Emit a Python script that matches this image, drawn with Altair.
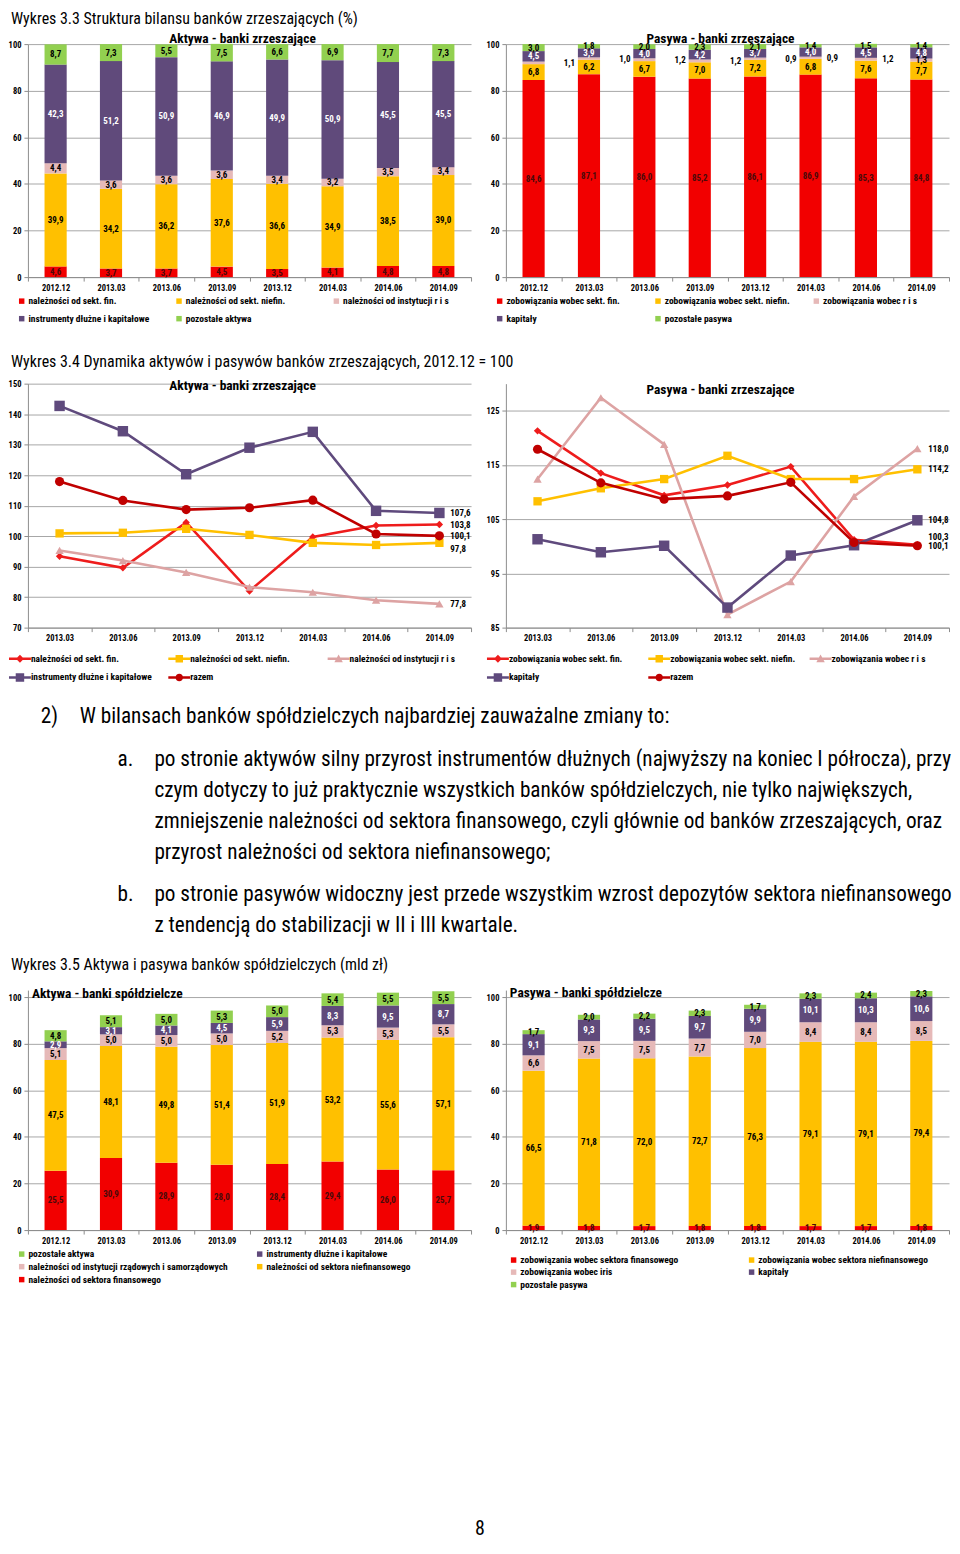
import altair as alt
import pandas as pd

FONT = "Liberation Sans Narrow, Arial Narrow, Roboto Condensed, DejaVu Sans Condensed, sans-serif"

okresy8 = ["2012.12", "2013.03", "2013.06", "2013.09", "2013.12", "2014.03", "2014.06", "2014.09"]
okresy7 = okresy8[1:]

# ---- Wykres 3.3 (%), aktywa
a33_nazwy = ["należności od sekt. fin.", "należności od sekt. niefin.", "należności od instytucji r i s",
             "instrumenty dłużne i kapitałowe", "pozostałe aktywa"]
a33_fin = [4.6, 3.7, 3.7, 4.5, 3.5, 4.1, 4.8, 4.8]
a33_niefin = [39.9, 34.2, 36.2, 37.6, 36.6, 34.9, 38.5, 39.0]
a33_ris = [4.4, 3.6, 3.6, 3.6, 3.4, 3.2, 3.5, 3.4]
a33_instr = [42.3, 51.2, 50.9, 46.9, 49.9, 50.9, 45.5, 45.5]
a33_poz = [8.7, 7.3, 5.5, 7.5, 6.6, 6.9, 7.7, 7.3]

# ---- Wykres 3.3 (%), pasywa
p33_nazwy = ["zobowiązania wobec sekt. fin.", "zobowiązania wobec sekt. niefin.", "zobowiązania wobec r i s",
             "kapitały", "pozostałe pasywa"]
p33_fin = [84.6, 87.1, 86.0, 85.2, 86.1, 86.9, 85.3, 84.8]
p33_niefin = [6.8, 6.2, 6.7, 7.0, 7.2, 6.8, 7.6, 7.7]
p33_ris = [1.1, 1.0, 1.2, 1.2, 0.9, 0.9, 1.2, 1.3]
p33_kap = [4.5, 3.9, 4.0, 4.2, 3.7, 4.0, 4.5, 4.8]
p33_poz = [3.0, 1.8, 2.0, 2.3, 2.1, 1.4, 1.5, 1.4]

# ---- Wykres 3.4 (2012.12 = 100), aktywa
a34_nazwy = ["należności od sekt. fin.", "należności od sekt. niefin.", "należności od instytucji r i s",
             "instrumenty dłużne i kapitałowe", "razem"]
a34_fin = [93.4, 89.6, 104.5, 82.0, 99.7, 103.5, 103.8]
a34_niefin = [100.9, 101.1, 102.4, 100.4, 97.8, 97.1, 97.8]
a34_ris = [95.3, 92.0, 88.1, 83.3, 81.6, 79.0, 77.8]
a34_instr = [142.7, 134.4, 120.3, 129.0, 134.2, 108.3, 107.6]
a34_razem = [117.9, 111.7, 108.7, 109.3, 111.8, 100.7, 100.1]

# ---- Wykres 3.4 (2012.12 = 100), pasywa
p34_nazwy = ["zobowiązania wobec sekt. fin.", "zobowiązania wobec sekt. niefin.", "zobowiązania wobec r i s",
             "kapitały", "razem"]
p34_fin = [121.3, 113.5, 109.4, 111.3, 114.7, 101.2, 100.3]
p34_niefin = [108.3, 110.7, 112.4, 116.7, 112.4, 112.4, 114.2]
p34_ris = [112.4, 127.4, 118.8, 87.4, 93.5, 109.2, 118.0]
p34_kap = [101.3, 98.9, 100.1, 88.7, 98.3, 100.2, 104.8]
p34_razem = [117.9, 111.7, 108.7, 109.3, 111.8, 100.7, 100.1]

# ---- Wykres 3.5 (mld zł), aktywa
a35_nazwy = ["należności od sektora finansowego", "należności od sektora niefinansowego",
             "należności od instytucji rządowych i samorządowych", "instrumenty dłużne i kapitałowe",
             "pozostałe aktywa"]
a35_fin = [25.5, 30.9, 28.9, 28.0, 28.4, 29.4, 26.0, 25.7]
a35_niefin = [47.5, 48.1, 49.8, 51.4, 51.9, 53.2, 55.6, 57.1]
a35_rzad = [5.1, 5.0, 5.0, 5.0, 5.2, 5.3, 5.3, 5.5]
a35_instr = [2.9, 3.1, 4.1, 4.5, 5.9, 8.3, 9.5, 8.7]
a35_poz = [4.8, 5.1, 5.0, 5.3, 5.0, 5.4, 5.5, 5.5]

# ---- Wykres 3.5 (mld zł), pasywa
p35_nazwy = ["zobowiązania wobec sektora finansowego", "zobowiązania wobec sektora niefinansowego",
             "zobowiązania wobec iris", "kapitały", "pozostałe pasywa"]
p35_fin = [1.9, 1.8, 1.7, 1.8, 1.8, 1.7, 1.7, 1.8]
p35_niefin = [66.5, 71.8, 72.0, 72.7, 76.3, 79.1, 79.1, 79.4]
p35_iris = [6.6, 7.5, 7.5, 7.7, 7.0, 8.4, 8.4, 8.5]
p35_kap = [9.1, 9.3, 9.5, 9.7, 9.9, 10.1, 10.3, 10.6]
p35_poz = [1.7, 2.0, 2.2, 2.3, 1.7, 2.3, 2.4, 2.3]

tytul_33 = "Wykres 3.3 Struktura bilansu banków zrzeszających (%)"
tytul_34 = "Wykres 3.4 Dynamika aktywów i pasywów banków zrzeszających, 2012.12 = 100"
tytul_35 = "Wykres 3.5 Aktywa i pasywa banków spółdzielczych (mld zł)"
akapit_2 = "W bilansach banków spółdzielczych najbardziej zauważalne zmiany to:"
akapit_a = ["po stronie aktywów silny przyrost instrumentów dłużnych (najwyższy na koniec I półrocza), przy",
            "czym dotyczy to już praktycznie wszystkich banków spółdzielczych, nie tylko największych,",
            "zmniejszenie należności od sektora finansowego, czyli głównie od banków zrzeszających, oraz",
            "przyrost należności od sektora niefinansowego;"]
akapit_b = ["po stronie pasywów widoczny jest przede wszystkim wzrost depozytów sektora niefinansowego",
            "z tendencją do stabilizacji w II i III kwartale."]

# ---- styles
RED, YEL, PINK, PURP, GREEN = "#F20000", "#FFC000", "#E6B9B8", "#604A7B", "#92D050"
LRED, LYEL, LPINK, LPURP, LDARK = "#EE1C1C", "#FFC000", "#DDA3A3", "#5F4A7D", "#C00000"
DARKLAB = "#4a0a0a"
GRAY = "#8c8c8c"
W = 445
LAB = 9
AX = 8.5
LEG = 9.5
BODY = 21.3
HEAD = 16
CT = 13.5


def fmt(v):
    return f"{v:.1f}".replace(".", ",")


def frame(names, series, periods):
    rows = []
    for k, (n, vals) in enumerate(zip(names, series)):
        for p, v in zip(periods, vals):
            rows.append({"okres": p, "seria": n, "kolej": k, "wartosc": v, "etykieta": fmt(v)})
    return pd.DataFrame(rows)


def x_axis():
    return alt.Axis(title=None, labelAngle=0, tickBand="extent", grid=False, tickSize=4,
                    labelPadding=2, domainColor=GRAY, tickColor=GRAY)


def bar_chart(df, names, colors, lab_colors, ymax, title, leg, height, skip_idx=None, extra=None,
              legend_reverse=False):
    dom = names[::-1] if legend_reverse else names
    rng = colors[::-1] if legend_reverse else colors
    base = alt.Chart(df).transform_stack(
        stack="wartosc", groupby=["okres"], as_=["y0", "y1"],
        sort=[alt.SortField("kolej", order="ascending")]
    ).transform_calculate(ysr="(datum.y0 + datum.y1) / 2")
    x = alt.X("okres:N", sort=okresy8, scale=alt.Scale(paddingInner=0, paddingOuter=0), axis=x_axis())
    ysc = alt.Scale(domain=[0, ymax], nice=False, zero=True)
    yax = alt.Axis(title=None, values=list(range(0, 101, 10)), grid=True, tickSize=4, labelPadding=3,
                   domainColor=GRAY, tickColor=GRAY)
    bars = base.mark_bar(width=alt.RelativeBandSize(0.4)).encode(
        x=x,
        y=alt.Y("y0:Q", scale=ysc, axis=yax),
        y2="y1:Q",
        color=alt.Color("seria:N", scale=alt.Scale(domain=dom, range=rng), legend=leg),
    )
    tbase = base
    if skip_idx is not None:
        tbase = base.transform_filter(alt.datum.kolej != skip_idx)
    texts = tbase.mark_text(font=FONT, fontSize=LAB, fontWeight="bold", baseline="middle").encode(
        x=x,
        y=alt.Y("ysr:Q", scale=ysc),
        text="etykieta:N",
        color=alt.Color("seria:N", scale=alt.Scale(domain=names, range=lab_colors), legend=None),
    )
    layers = [bars, texts]
    if extra is not None:
        for okresy_grp, dx in extra:
            layers.append(
                base.transform_filter(alt.datum.kolej == skip_idx)
                .transform_filter(alt.FieldOneOfPredicate(field="okres", oneOf=okresy_grp))
                .mark_text(font=FONT, fontSize=LAB, fontWeight="bold", baseline="middle", dx=dx,
                           color="black")
                .encode(x=x, y=alt.Y("ysr:Q", scale=ysc), text="etykieta:N")
            )
    return alt.layer(*layers).resolve_scale(color="independent").properties(
        width=W, height=height, title=title)


LINE = "M-2.2,-0.25H2.2V0.25H-2.2Z"
P_DIAM = LINE + "M0,-0.8L0.8,0L0,0.8L-0.8,0Z"
P_SQ = LINE + "M-0.75,-0.75H0.75V0.75H-0.75Z"
P_BIGSQ = LINE + "M-0.85,-0.85H0.85V0.85H-0.85Z"
P_TRI = LINE + "M0,-0.85L0.85,0.7H-0.85Z"
P_CIRC = LINE + "M-0.75,0A0.75,0.75 0 1,1 0.75,0A0.75,0.75 0 1,1 -0.75,0Z"

line_colors = [LRED, LYEL, LPINK, LPURP, LDARK]
line_shapes = ["diamond", "square", "triangle-up", "square", "circle"]
line_sizes = [55, 70, 70, 110, 85]
legend_paths = [P_DIAM, P_SQ, P_TRI, P_BIGSQ, P_CIRC]


def line_chart(df, names, ydom, yticks, title, label_dy, leg_pad):
    x = alt.X("okres:N", sort=okresy7, scale=alt.Scale(type="band", paddingInner=0, paddingOuter=0),
              axis=x_axis())
    ysc = alt.Scale(domain=ydom, nice=False, zero=False)
    y = alt.Y("wartosc:Q", scale=ysc,
              axis=alt.Axis(title=None, values=yticks, grid=True, tickSize=4, labelPadding=3,
                            domainColor=GRAY, tickColor=GRAY))
    csc = alt.Scale(domain=names, range=line_colors)
    layers = [alt.Chart(df).mark_line(strokeWidth=2.6).encode(
        x=x, y=y, color=alt.Color("seria:N", scale=csc, legend=None), order="kolej:Q")]
    for n, shp, sz in zip(names, line_shapes, line_sizes):
        layers.append(alt.Chart(df).transform_filter(alt.datum.seria == n).mark_point(
            shape=shp, filled=True, size=sz, opacity=1).encode(
            x=x, y=y, color=alt.Color("seria:N", scale=csc, legend=None)))
    for n, dy in zip(names, label_dy):
        layers.append(alt.Chart(df).transform_filter(
            (alt.datum.seria == n) & (alt.datum.okres == okresy7[-1])).mark_text(
            align="left", baseline="middle", dx=11, dy=dy, font=FONT, fontSize=LAB, fontWeight="bold",
            color="black").encode(x=x, y=y, text="etykieta:N"))
    inner = alt.layer(*layers)
    leg = alt.Legend(title=None, orient="none", legendX=-13, legendY=271, columns=3, direction="horizontal",
                     symbolSize=100, labelOffset=6, rowPadding=9, columnPadding=leg_pad, gridAlign="all",
                     symbolStrokeWidth=0)
    legend_layer = alt.Chart(df).transform_filter("false").mark_point(filled=True, opacity=1).encode(
        x=x, y=y,
        color=alt.Color("seria:N", scale=csc, legend=leg),
        shape=alt.Shape("seria:N", scale=alt.Scale(domain=names, range=legend_paths), legend=leg))
    return alt.layer(inner, legend_layer).resolve_scale(color="independent", shape="independent").properties(
        width=W, height=245, title=title)


def mid_title(t, dx, offset):
    return alt.TitleParams(t, anchor="middle", frame="group", orient="top", baseline="bottom", offset=offset,
                           dx=dx, fontSize=CT, fontWeight="bold", font=FONT, color="black")


def corner_title(t):
    return alt.TitleParams(t, anchor="start", frame="group", orient="top", baseline="bottom", offset=-24,
                           dx=4, fontSize=CT, fontWeight="bold", font=FONT, color="black")


def bar_legend(lx, ly, cols, rowpad, colpad):
    return alt.Legend(title=None, orient="none", legendX=lx, legendY=ly, columns=cols, direction="horizontal",
                      symbolType="square", symbolSize=30, labelOffset=2, rowPadding=rowpad,
                      columnPadding=colpad, gridAlign="all", symbolStrokeWidth=0)


def text_cell(items, h):
    layers = []
    for txt, x, y, size in items:
        layers.append(alt.Chart(pd.DataFrame({"t": [txt]})).mark_text(
            align="left", baseline="middle", font=FONT, fontSize=size, color="black").encode(
            x=alt.value(x), y=alt.value(y), text="t:N"))
    return alt.layer(*layers).properties(width=W, height=h)


def blank(h):
    return alt.Chart(pd.DataFrame({"t": [""]})).mark_text().encode(text="t:N").properties(width=W, height=h)


# ---- charts
c_a33 = bar_chart(frame(a33_nazwy, [a33_fin, a33_niefin, a33_ris, a33_instr, a33_poz], okresy8),
                  a33_nazwy, [RED, YEL, PINK, PURP, GREEN], [DARKLAB, "black", "black", "white", "black"],
                  100, mid_title("Aktywa - banki zrzeszające", -7, -19), bar_legend(-11, 253, 3, 7, 24), 234)

c_p33 = bar_chart(frame(p33_nazwy, [p33_fin, p33_niefin, p33_ris, p33_kap, p33_poz], okresy8),
                  p33_nazwy, [RED, YEL, PINK, PURP, GREEN], [DARKLAB, "black", "black", "white", "black"],
                  100, mid_title("Pasywa - banki zrzeszające", -7, -19), bar_legend(-11, 253, 3, 7, 21), 234,
                  skip_idx=2,
                  extra=[(okresy8[:5], 36), (okresy8[5:7], 22), (okresy8[7:], 0)])

c_a34 = line_chart(frame(a34_nazwy, [a34_fin, a34_niefin, a34_ris, a34_instr, a34_razem], okresy7),
                   a34_nazwy, [70, 150], list(range(70, 151, 10)),
                   mid_title("Aktywa - banki zrzeszające", -7, -27), [0, 6, 0, 0, 0], 16)

c_p34 = line_chart(frame(p34_nazwy, [p34_fin, p34_niefin, p34_ris, p34_kap, p34_razem], okresy7),
                   p34_nazwy, [85, 130], [85, 95, 105, 115, 125],
                   mid_title("Pasywa - banki zrzeszające", -7, -27), [-8, 0, 0, 0, 0], 14)

c_a35 = bar_chart(frame(a35_nazwy, [a35_fin, a35_niefin, a35_rzad, a35_instr, a35_poz], okresy8),
                  a35_nazwy, [RED, YEL, PINK, PURP, GREEN], [DARKLAB, "black", "black", "white", "black"],
                  103, corner_title("Aktywa - banki spółdzielcze"), bar_legend(-11, 260, 2, 2, 26), 241,
                  legend_reverse=True)

c_p35 = bar_chart(frame(p35_nazwy, [p35_fin, p35_niefin, p35_iris, p35_kap, p35_poz], okresy8),
                  p35_nazwy, [RED, YEL, PINK, PURP, GREEN], [DARKLAB, "black", "black", "white", "black"],
                  103, corner_title("Pasywa - banki spółdzielcze"), bar_legend(3, 266, 2, 1.5, 56), 241)

head1 = text_cell([(tytul_33, -17, 8, HEAD)], 33)
head2 = text_cell([(tytul_34, -17, 85, HEAD)], 107)
para_items = [("2)", 13, 90, BODY), (akapit_2, 52, 90, BODY), ("a.", 90, 133, BODY)]
for i, line in enumerate(akapit_a):
    para_items.append((line, 127, 133 + 31 * i, BODY))
para_items.append(("b.", 90, 269, BODY))
for i, line in enumerate(akapit_b):
    para_items.append((line, 127, 269 + 31 * i, BODY))
para_items.append((tytul_35, -17, 339, HEAD))
para = text_cell(para_items, 364)
footer = text_cell([("8", 449, 300, 20)], 300)

cells = [head1, blank(33), c_a33, c_p33, head2, blank(107), c_a34, c_p34,
         para, blank(364), c_a35, c_p35, footer, blank(300)]

chart = alt.concat(*cells, columns=2, spacing={"row": 0, "column": 35}, bounds="flush", align="each").properties(
    padding=0, background="white"
).configure_view(stroke=None).configure_axis(
    labelFont=FONT, labelFontSize=AX, labelFontWeight="bold", labelColor="black",
    gridColor="#a6a6a6", gridWidth=1
).configure_legend(
    labelFont=FONT, labelFontSize=LEG, labelFontWeight="bold", labelColor="black", padding=0, labelLimit=300
)

chart.save("out.html", embed_options={"renderer": "svg", "actions": False})
